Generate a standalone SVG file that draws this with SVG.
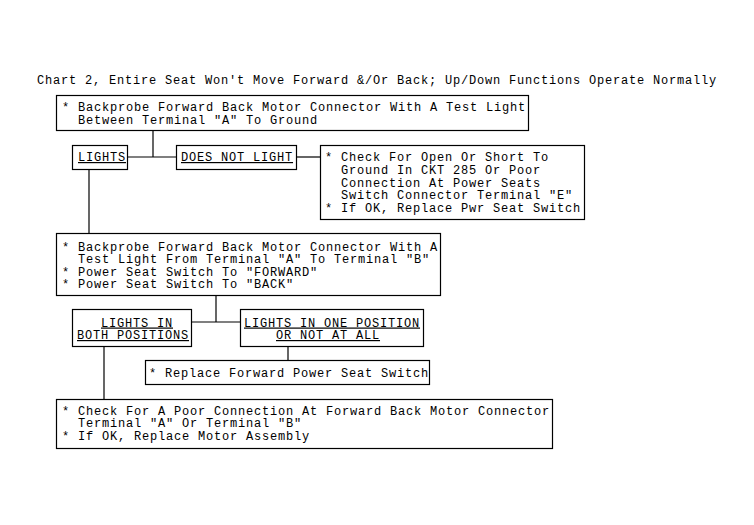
<svg xmlns="http://www.w3.org/2000/svg" width="754" height="525" viewBox="0 0 754 525" xml:space="preserve">
<style>
text{font-family:"Liberation Mono","DejaVu Sans Mono",monospace;font-size:12px;letter-spacing:0.8px;fill:#000;white-space:pre}
.box{fill:#fff;stroke:#000;stroke-width:1.2}
.u{text-decoration:underline}
.c line{stroke:#000;stroke-width:1.2}
</style>
<rect x="0" y="0" width="754" height="525" fill="#fff"/>
<text x="37" y="84">Chart 2, Entire Seat Won't Move Forward &amp;/Or Back; Up/Down Functions Operate Normally</text>
<g class="c" id="connectors">
<line x1="153" y1="131" x2="153" y2="157"/>
<line x1="128" y1="157" x2="176" y2="157"/>
<line x1="297" y1="157" x2="320" y2="157"/>
<line x1="89" y1="170" x2="89" y2="233"/>
<line x1="216" y1="296" x2="216" y2="322"/>
<line x1="192" y1="322" x2="240" y2="322"/>
<line x1="288" y1="347" x2="288" y2="360"/>
<line x1="104" y1="347" x2="104" y2="399"/>
</g>
<g id="n1">
<rect class="box" x="56.5" y="95.5" width="472" height="35"/>
<text x="62" y="111">* Backprobe Forward Back Motor Connector With A Test Light</text>
<text x="62" y="123.5">  Between Terminal "A" To Ground</text>
</g>
<g id="n2">
<rect class="box" x="72.5" y="145.5" width="55" height="24"/>
<text class="u" x="78" y="161">LIGHTS</text>
</g>
<g id="n3">
<rect class="box" x="176.5" y="145.5" width="120" height="24"/>
<text class="u" x="181" y="161">DOES NOT LIGHT</text>
</g>
<g id="n4">
<rect class="box" x="320.5" y="145.5" width="264" height="74"/>
<text x="325" y="161">* Check For Open Or Short To</text>
<text x="325" y="173.75">  Ground In CKT 285 Or Poor</text>
<text x="325" y="186.5">  Connection At Power Seats</text>
<text x="325" y="199.25">  Switch Connector Terminal "E"</text>
<text x="325" y="212">* If OK, Replace Pwr Seat Switch</text>
</g>
<g id="n5">
<rect class="box" x="56.5" y="233.5" width="384" height="62"/>
<text x="62" y="250.5">* Backprobe Forward Back Motor Connector With A</text>
<text x="62" y="263">  Test Light From Terminal "A" To Terminal "B"</text>
<text x="62" y="275.5">* Power Seat Switch To "FORWARD"</text>
<text x="62" y="288">* Power Seat Switch To "BACK"</text>
</g>
<g id="n6">
<rect class="box" x="72.5" y="309.5" width="119" height="37"/>
<text class="u" x="101" y="326.5">LIGHTS IN</text>
<text class="u" x="77" y="339">BOTH POSITIONS</text>
</g>
<g id="n7">
<rect class="box" x="240.5" y="309.5" width="183" height="37"/>
<text class="u" x="244" y="326.5">LIGHTS IN ONE POSITION</text>
<text class="u" x="276" y="339">OR NOT AT ALL</text>
</g>
<g id="n8">
<rect class="box" x="145.5" y="360.5" width="284" height="24"/>
<text x="149" y="376.5">* Replace Forward Power Seat Switch</text>
</g>
<g id="n9">
<rect class="box" x="56.5" y="399.5" width="496" height="49"/>
<text x="62" y="414.5">* Check For A Poor Connection At Forward Back Motor Connector</text>
<text x="62" y="427">  Terminal "A" Or Terminal "B"</text>
<text x="62" y="439.5">* If OK, Replace Motor Assembly</text>
</g>
</svg>
